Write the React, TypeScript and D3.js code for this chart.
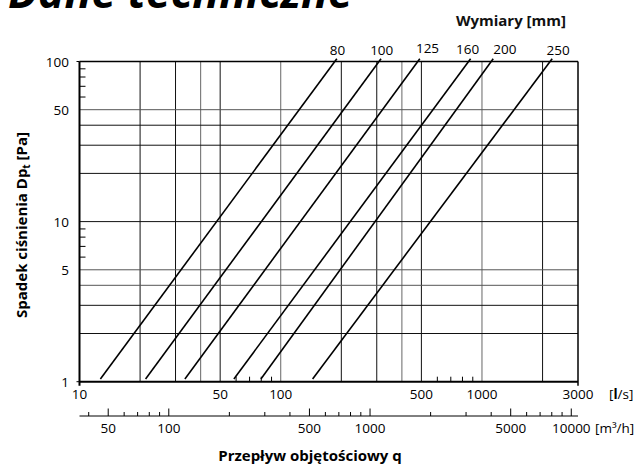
import React from "react";
import * as d3 from "d3";

// ---- data ----
const sizes = ["80", "100", "125", "160", "200", "250"];
const qStart = [12.7, 21.3, 33.4, 58.5, 79.7, 144]; // l/s at lower end
const qEnd = [190, 315, 491, 878, 1137, 2232]; // l/s at upper end
const dpStart = [1.04, 1.04, 1.04, 1.04, 1.04, 1.04];
const dpEnd = [104, 104, 104, 104, 104, 104];

const xTickLabels = [10, 50, 100, 500, 1000, 3000];
const yTickLabels = [1, 5, 10, 50, 100];
const m3hLabels = [50, 100, 500, 1000, 5000, 10000];
const m3hMinor = [40, 60, 70, 80, 90, 200, 300, 400, 600, 700, 800, 900, 2000, 3000, 4000, 6000, 7000, 8000, 9000];
const xMinor = [60, 70, 80, 90, 600, 700, 800, 900];
const yMinor = [6, 7, 8, 9, 60, 70, 80, 90];
const gridX = [20, 30, 40, 50, 100, 200, 300, 400, 500, 1000, 2000];
const gridY = [2, 3, 4, 5, 10, 20, 30, 40, 50];
const grayGridX = [40, 100, 400, 1000];
const grayGridY = [50, 5, 4];

// label layout offsets (px) relative to line top end
const labelDx = [0.6, 0.7, 7.7, -3, 11.7, 6];
const labelBase = [55, 55, 52.7, 54, 54, 55];

const W = 639;
const H = 466;
const FONT = "'Open Sans', 'Noto Sans', sans-serif";
const TICK_FS = 13.5;
const TITLE_FS = 15;

export default function App() {
  const x = d3.scaleLog().domain([10, 3000]).range([79.5, 578]);
  const y = d3.scaleLog().domain([1, 100]).range([381.7, 61.5]);
  const x2 = d3.scaleLog().domain([36, 10800]).range([79.5, 578]);
  const L = 79.5, R = 578, T = 61.5, B = 381.7;
  const axis2Y = 416;

  const line = d3
    .line<[number, number]>()
    .x((d) => x(d[0]))
    .y((d) => y(d[1]));

  return (
    <svg
      width={W}
      height={H}
      style={{ position: "absolute", left: 0, top: 0, background: "#fff" }}
      fontFamily={FONT}
    >
      <rect x={0} y={0} width={W} height={H} fill="#fff" />
      {/* title */}
      <text x={8} y={8} fontSize={44.5} fontWeight="bold" fontStyle="italic" fill="#000">
        Dane techniczne
      </text>
      <text x={511} y={26} fontSize={TITLE_FS} fontWeight="bold" textAnchor="middle" fill="#111">
        Wymiary [mm]
      </text>

      {/* grid */}
      {gridX.map((v) => (
        <line
          key={"gx" + v}
          x1={x(v)}
          x2={x(v)}
          y1={T}
          y2={B}
          stroke={grayGridX.includes(v) ? "#666" : "#111"}
          strokeWidth={1}
        />
      ))}
      {gridY.map((v) => (
        <line
          key={"gy" + v}
          x1={L}
          x2={R}
          y1={y(v)}
          y2={y(v)}
          stroke={grayGridY.includes(v) ? "#555" : "#111"}
          strokeWidth={1}
        />
      ))}

      {/* minor ticks */}
      {yMinor.map((v) => (
        <line key={"ym" + v} x1={L} x2={L + 6} y1={y(v)} y2={y(v)} stroke="#000" strokeWidth={1} />
      ))}
      {xMinor.map((v) => (
        <line key={"xm" + v} x1={x(v)} x2={x(v)} y1={B} y2={B - 5} stroke="#000" strokeWidth={1} />
      ))}

      {/* borders */}
      <line x1={L} x2={R} y1={T} y2={T} stroke="#000" strokeWidth={1.5} />
      <line x1={R} x2={R} y1={T} y2={B + 4} stroke="#000" strokeWidth={1.5} />
      <line x1={L} x2={R} y1={B} y2={B} stroke="#000" strokeWidth={2} />
      <line x1={L} x2={L} y1={T} y2={B + 4} stroke="#000" strokeWidth={2} />
      <line x1={L - 3} x2={L} y1={B} y2={B} stroke="#000" strokeWidth={1} />
      <line x1={L - 3} x2={L} y1={T} y2={T} stroke="#000" strokeWidth={1} />

      {/* series lines */}
      {sizes.map((s, i) => {
        const pts: [number, number][] = [
          [qStart[i], dpStart[i]],
          [qEnd[i], dpEnd[i]],
        ];
        return (
          <path key={"s" + s} d={line(pts) || ""} fill="none" stroke="#000" strokeWidth={1.6} />
        );
      })}
      {sizes.map((s, i) => (
        <text
          key={"sl" + s}
          x={x(qEnd[i]) + labelDx[i]}
          y={labelBase[i]}
          fontSize={TICK_FS}
          textAnchor="middle"
          fill="#000"
        >
          {s}
        </text>
      ))}

      {/* y labels */}
      {yTickLabels.map((v) => (
        <text key={"yl" + v} x={69} y={y(v) + 5} fontSize={TICK_FS} textAnchor="end" fill="#000">
          {v}
        </text>
      ))}
      {/* x labels */}
      {xTickLabels.map((v) => (
        <text key={"xl" + v} x={x(v)} y={398.5} fontSize={TICK_FS} textAnchor="middle" fill="#000">
          {v}
        </text>
      ))}
      <text x={609} y={398.5} fontSize={TICK_FS} fill="#000">
        [<tspan fontWeight="bold">l</tspan>/s]
      </text>

      {/* second axis */}
      <line x1={L} x2={R} y1={axis2Y} y2={axis2Y} stroke="#000" strokeWidth={1} />
      {m3hLabels.map((v) => (
        <line key={"m2M" + v} x1={x2(v)} x2={x2(v)} y1={axis2Y} y2={axis2Y - 7.5} stroke="#000" strokeWidth={1} />
      ))}
      {m3hMinor.map((v) => (
        <line key={"m2m" + v} x1={x2(v)} x2={x2(v)} y1={axis2Y} y2={axis2Y - 4} stroke="#000" strokeWidth={1} />
      ))}
      {m3hLabels.map((v) => (
        <text key={"m2l" + v} x={x2(v)} y={433} fontSize={TICK_FS} textAnchor="middle" fill="#000">
          {v}
        </text>
      ))}
      <text x={595} y={433} fontSize={TICK_FS} fill="#000">
        [m³/h]
      </text>

      {/* axis titles */}
      <text x={310} y={461} fontSize={TITLE_FS} fontWeight="bold" textAnchor="middle" fill="#000">
        Przepływ objętościowy q
      </text>
      <text
        transform={`translate(27, 225) rotate(-90)`}
        fontSize={TITLE_FS}
        fontWeight="bold"
        textAnchor="middle"
        fill="#000"
      >
        Spadek ciśnienia Dp<tspan fontSize={10} dy={3}>t</tspan>
        <tspan dy={-3}> [Pa]</tspan>
      </text>
    </svg>
  );
}
